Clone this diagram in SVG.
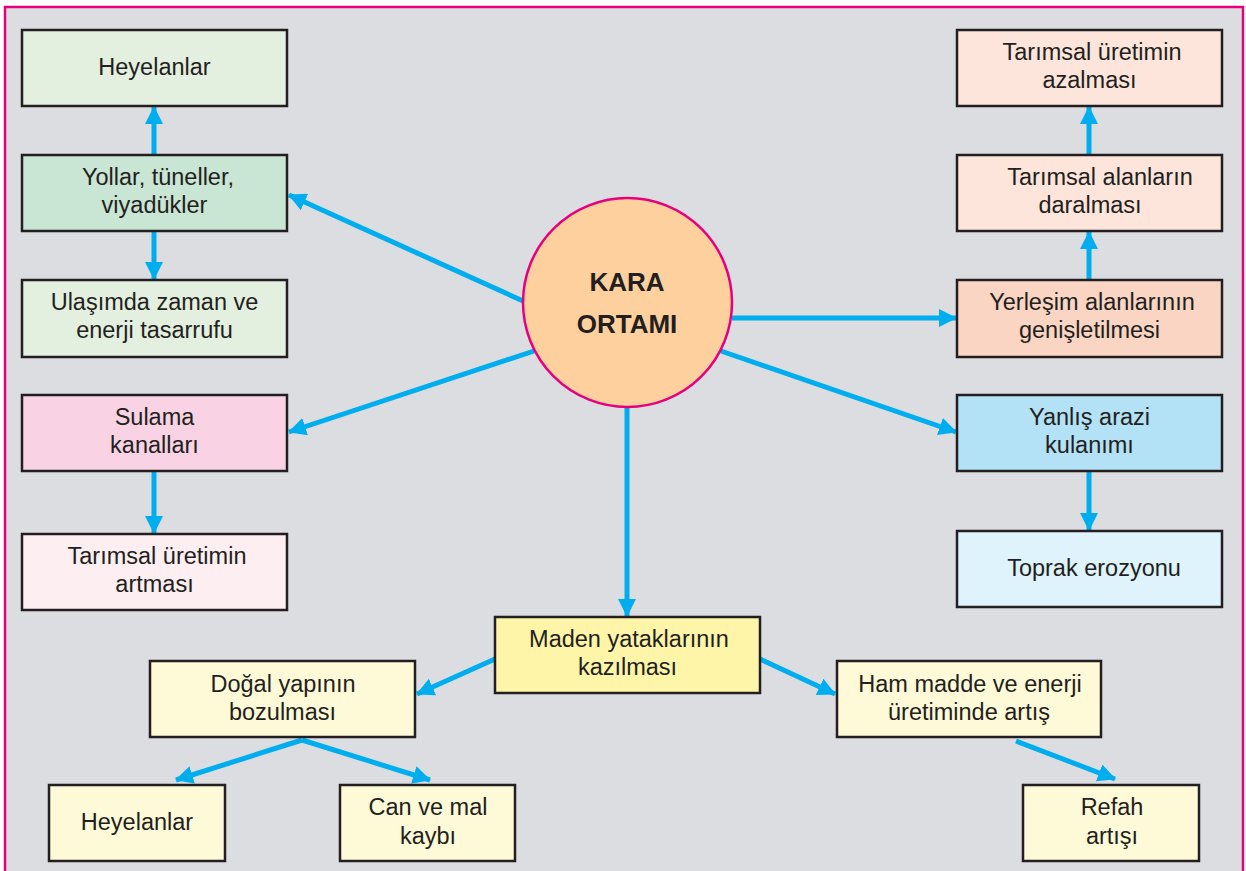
<svg xmlns="http://www.w3.org/2000/svg" width="1246" height="871" viewBox="0 0 1246 871">
  <style>
    .box { stroke: #231f20; stroke-width: 2.5; }
    .t { font-family: "Liberation Sans", Arial, sans-serif; font-size: 23.5px; fill: #231f20; text-anchor: middle; }
    .title { font-family: "Liberation Sans", Arial, sans-serif; font-size: 26px; font-weight: bold; fill: #231f20; text-anchor: middle; }
    .arrow { stroke: #00aeef; stroke-width: 5; fill: none; marker-end: url(#head); }
  </style>
  <defs>
    <marker id="head" markerUnits="userSpaceOnUse" markerWidth="18" markerHeight="18" refX="17" refY="9" orient="auto">
      <path d="M0,0 L18,9 L0,18 z" fill="#00aeef"/>
    </marker>
  </defs>

  <!-- page and frame -->
  <rect x="0" y="0" width="1246" height="871" fill="#ffffff"/>
  <rect x="5" y="7" width="1238" height="880" fill="#dcdde0" stroke="#e6007e" stroke-width="2.5"/>

  <!-- connectors -->
  <g id="connectors">
    <line class="arrow" x1="154" y1="155" x2="154" y2="107"/>
    <line class="arrow" x1="154" y1="231" x2="154" y2="279"/>
    <line class="arrow" x1="523" y1="301" x2="289" y2="195"/>
    <line class="arrow" x1="534" y1="351" x2="289" y2="432"/>
    <line class="arrow" x1="154" y1="471" x2="154" y2="533"/>
    <line class="arrow" x1="732" y1="318" x2="956" y2="318"/>
    <line class="arrow" x1="721" y1="351" x2="956" y2="432"/>
    <line class="arrow" x1="1089" y1="280" x2="1089" y2="232"/>
    <line class="arrow" x1="1089" y1="155" x2="1089" y2="107"/>
    <line class="arrow" x1="1089" y1="471" x2="1089" y2="530"/>
    <line class="arrow" x1="627" y1="408" x2="627" y2="616"/>
    <line class="arrow" x1="495" y1="659" x2="417" y2="694"/>
    <line class="arrow" x1="760" y1="659" x2="835" y2="694"/>
    <line class="arrow" x1="302" y1="740" x2="176" y2="780"/>
    <line class="arrow" x1="302" y1="740" x2="430" y2="780"/>
    <line class="arrow" x1="1016" y1="741" x2="1115" y2="779"/>
  </g>

  <!-- centre -->
  <g id="kara-ortami">
    <circle cx="627.5" cy="302.5" r="104.5" fill="#fdd09d" stroke="#e6007e" stroke-width="2.5"/>
    <text class="title" x="627" y="291">KARA</text>
    <text class="title" x="627" y="333">ORTAMI</text>
  </g>

  <!-- left column -->
  <g id="heyelanlar-top">
    <rect class="box" x="22" y="30" width="265" height="76" fill="#e3efdf"/>
    <text class="t" x="154.5" y="75">Heyelanlar</text>
  </g>
  <g id="yollar">
    <rect class="box" x="22" y="155" width="265" height="76" fill="#c9e5d4"/>
    <text class="t" x="158" y="185">Yollar, tüneller,</text>
    <text class="t" x="154.5" y="213">viyadükler</text>
  </g>
  <g id="ulasim">
    <rect class="box" x="22" y="280" width="265" height="77" fill="#e3efdf"/>
    <text class="t" x="154.5" y="310">Ulaşımda zaman ve</text>
    <text class="t" x="154.5" y="338">enerji tasarrufu</text>
  </g>
  <g id="sulama">
    <rect class="box" x="22" y="395" width="265" height="76" fill="#f9d3e3"/>
    <text class="t" x="154.5" y="425">Sulama</text>
    <text class="t" x="154.5" y="453">kanalları</text>
  </g>
  <g id="tarim-artma">
    <rect class="box" x="22" y="534" width="265" height="76" fill="#fdeef2"/>
    <text class="t" x="157" y="564">Tarımsal üretimin</text>
    <text class="t" x="154.5" y="592">artması</text>
  </g>

  <!-- right column -->
  <g id="tarim-azalma">
    <rect class="box" x="957" y="30" width="265" height="76" fill="#fde5db"/>
    <text class="t" x="1092" y="60">Tarımsal üretimin</text>
    <text class="t" x="1089.5" y="88">azalması</text>
  </g>
  <g id="tarim-daralma">
    <rect class="box" x="957" y="155" width="265" height="76" fill="#fde5db"/>
    <text class="t" x="1100" y="185">Tarımsal alanların</text>
    <text class="t" x="1090" y="213">daralması</text>
  </g>
  <g id="yerlesim">
    <rect class="box" x="957" y="280" width="265" height="77" fill="#fad5c3"/>
    <text class="t" x="1092" y="310">Yerleşim alanlarının</text>
    <text class="t" x="1089.5" y="338">genişletilmesi</text>
  </g>
  <g id="yanlis-arazi">
    <rect class="box" x="957" y="395" width="265" height="76" fill="#b3e1f6"/>
    <text class="t" x="1089.5" y="425">Yanlış arazi</text>
    <text class="t" x="1089.5" y="453">kulanımı</text>
  </g>
  <g id="toprak-erozyonu">
    <rect class="box" x="957" y="531" width="265" height="76" fill="#def3fb"/>
    <text class="t" x="1094" y="576">Toprak erozyonu</text>
  </g>

  <!-- bottom -->
  <g id="maden">
    <rect class="box" x="495" y="617" width="265" height="76" fill="#fff5a8"/>
    <text class="t" x="629" y="647">Maden yataklarının</text>
    <text class="t" x="627.5" y="675">kazılması</text>
  </g>
  <g id="dogal-yapi">
    <rect class="box" x="150" y="661" width="265" height="76" fill="#fef9d7"/>
    <text class="t" x="283" y="692">Doğal yapının</text>
    <text class="t" x="282.5" y="720">bozulması</text>
  </g>
  <g id="ham-madde">
    <rect class="box" x="837" y="661" width="264" height="76" fill="#fef9d7"/>
    <text class="t" x="970" y="692">Ham madde ve enerji</text>
    <text class="t" x="969" y="720">üretiminde artış</text>
  </g>
  <g id="heyelanlar-bottom">
    <rect class="box" x="49" y="785" width="176" height="76" fill="#fef9d7"/>
    <text class="t" x="137" y="830">Heyelanlar</text>
  </g>
  <g id="can-mal">
    <rect class="box" x="340" y="785" width="175" height="76" fill="#fef9d7"/>
    <text class="t" x="428" y="815">Can ve mal</text>
    <text class="t" x="428" y="844">kaybı</text>
  </g>
  <g id="refah">
    <rect class="box" x="1023" y="785" width="176" height="76" fill="#fef9d7"/>
    <text class="t" x="1112" y="815">Refah</text>
    <text class="t" x="1112" y="844">artışı</text>
  </g>
</svg>
